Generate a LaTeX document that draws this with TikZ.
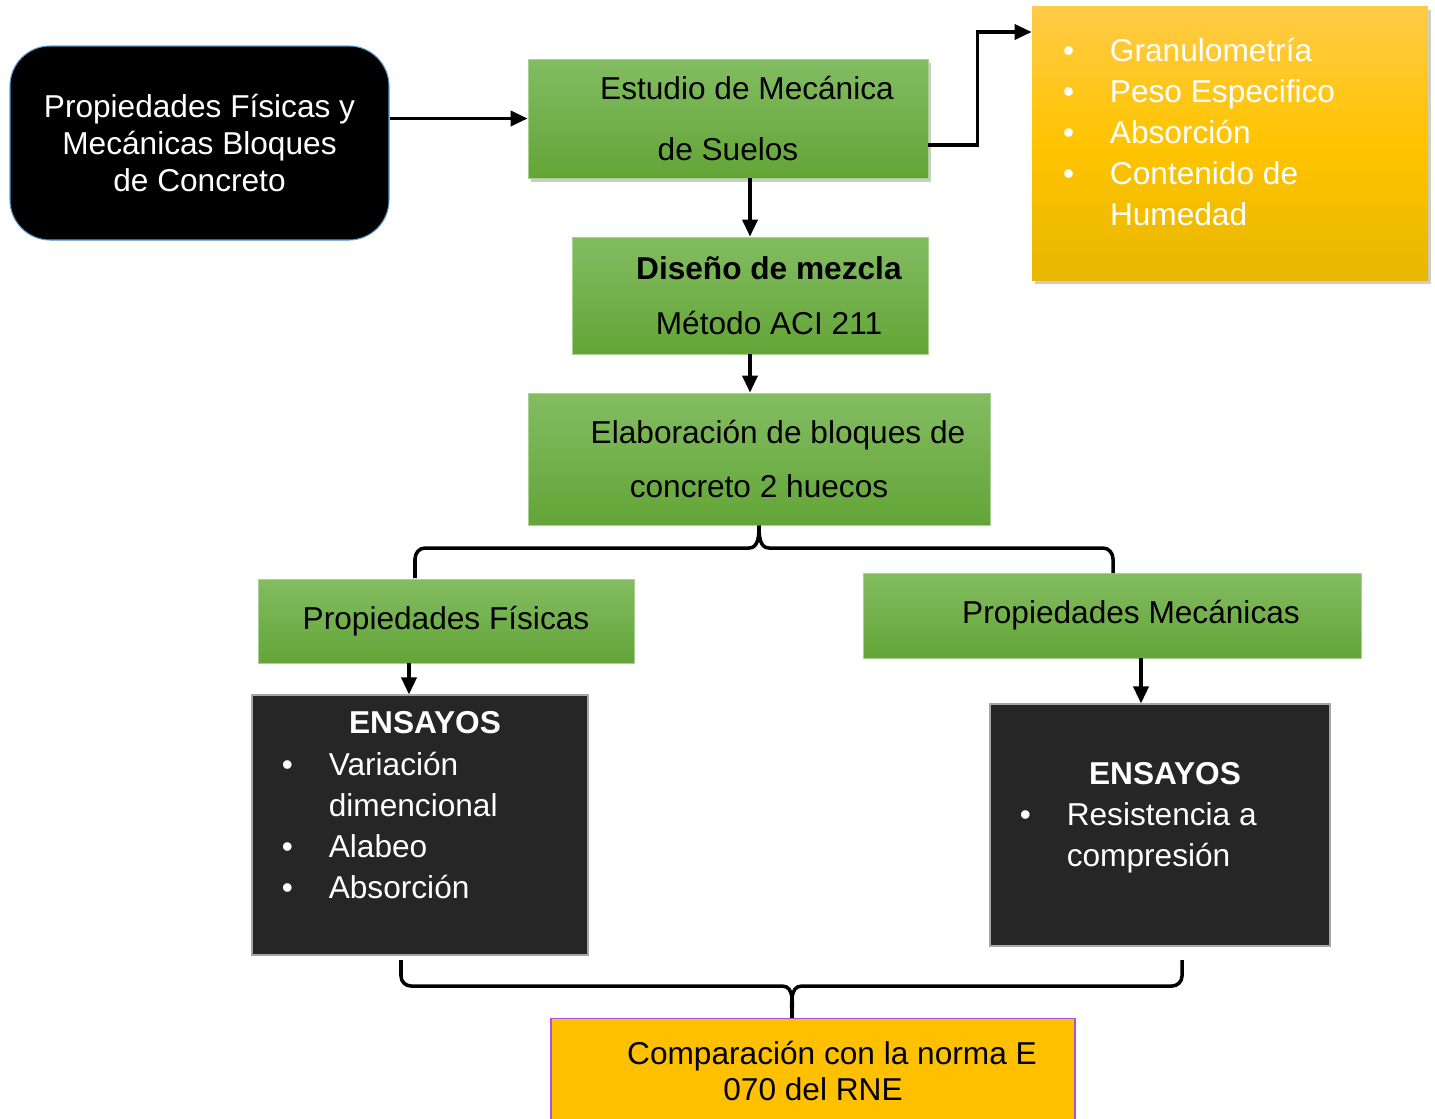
\documentclass[tikz,border=0pt]{standalone}
\usepackage{fontspec}
\setmainfont{Liberation Sans}
\usetikzlibrary{arrows.meta,shadows,positioning}

\definecolor{verdeA}{RGB}{131,188,98}
\definecolor{verdeB}{RGB}{99,165,55}
\definecolor{naranjaA}{RGB}{255,203,72}
\definecolor{naranjaB}{RGB}{255,196,0}
\definecolor{naranjaC}{RGB}{232,183,0}
\definecolor{grisosc}{RGB}{38,38,38}
\definecolor{azulborde}{RGB}{91,155,213}
\definecolor{morado}{RGB}{176,80,224}
\definecolor{ambar}{RGB}{255,192,0}

\newcommand{\sangria}{\hspace*{0.76cm}}
\newcommand{\vin}{\makebox[0.94cm][l]{\textbullet}}
\newcommand{\cont}{\hspace*{0.94cm}}

\tikzset{
  caja/.style={rectangle, inner sep=0pt, align=center, font=\fontsize{18}{21}\selectfont},
  verde/.style={caja, draw=verdeA!70!white, line width=0.4pt, top color=verdeA, bottom color=verdeB},
  sombra/.style={drop shadow={shadow xshift=0.06cm, shadow yshift=-0.08cm, opacity=0.4}},
  oscura/.style={caja, draw=gray!70, line width=0.6pt, fill=grisosc, text=white},
  titulo/.style={inner sep=0pt, text=white, font=\bfseries\fontsize{18}{21}\selectfont},
  lista/.style={inner sep=0pt, align=left, text=white, font=\fontsize{18}{23.4}\selectfont},
  flecha/.style={line width=2pt, -{Triangle[length=0.34cm,width=0.3cm]}},
  llave/.style={line width=2pt}
}

\begin{document}
\begin{tikzpicture}
\useasboundingbox (0,0) rectangle (28.7,-22.36);

% Cajas de la fila superior
\node[caja, fill=black, draw=azulborde, line width=0.6pt, rounded corners=0.8cm, text=white,
  minimum width=7.58cm, minimum height=3.88cm] (prop) at (3.99,-2.86)
  {Propiedades Físicas y\\Mecánicas Bloques\\de Concreto};
\node[verde, sombra, minimum width=8cm, minimum height=2.38cm, font=\fontsize{18}{35}\selectfont]
  (est) at (14.56,-2.37) {\sangria Estudio de Mecánica\\de Suelos};
\node[caja, sombra, top color=naranjaA, bottom color=naranjaC, middle color=naranjaB,
  minimum width=7.92cm, minimum height=5.48cm] (gran) at (24.60,-2.86) {};
\node[lista, anchor=north west] (grantxt) at ([xshift=0.62cm,yshift=-0.64cm]gran.north west)
  {\vin Granulometría\\\vin Peso Especifico\\\vin Absorción\\\vin Contenido de\\\cont Humedad};

% Cajas centrales
\node[verde, minimum width=7.12cm, minimum height=2.34cm, font=\fontsize{18}{31}\selectfont]
  (dis) at (15.00,-5.91) {\sangria\textbf{Diseño de mezcla}\\\sangria Método ACI 211};
\node[verde, minimum width=9.24cm, minimum height=2.64cm, font=\fontsize{18}{31}\selectfont]
  (ela) at (15.18,-9.18) {\sangria Elaboración de bloques de\\concreto 2 huecos};
\node[verde, minimum width=7.52cm, minimum height=1.68cm] (fis) at (8.92,-12.42) {Propiedades Físicas};
\node[verde, minimum width=9.96cm, minimum height=1.70cm] (mec) at (22.24,-12.31) {\sangria Propiedades Mecánicas};

% Ensayos
\node[oscura, minimum width=6.72cm, minimum height=5.20cm] (ensL) at (8.40,-16.50) {};
\node[titulo] (titL) at (8.50,-14.46) {ENSAYOS};
\node[lista, anchor=north west] (lisL) at ([xshift=0.6cm,yshift=-1.14cm]ensL.north west)
  {\vin Variación\\\cont dimencional\\\vin Alabeo\\\vin Absorción};
\node[oscura, minimum width=6.80cm, minimum height=4.84cm] (ensR) at (23.20,-16.50) {};
\node[titulo] (titR) at (23.30,-15.48) {ENSAYOS};
\node[lista, anchor=north west] (lisR) at ([xshift=0.6cm,yshift=-1.98cm]ensR.north west)
  {\vin Resistencia a\\\cont compresión};

% Comparacion final
\node[caja, fill=ambar, draw=morado, line width=0.6pt, minimum width=10.48cm, minimum height=2.1cm,
  anchor=north, font=\fontsize{18}{20}\selectfont] (comp) at (16.26,-20.36)
  {\sangria Comparación con la norma E\\070 del RNE};

% Flechas
\coordinate (fL) at ([xshift=-0.22cm]ensL.north);
\coordinate (fR) at ([xshift=-0.38cm]ensR.north);
\draw[flecha] (prop.east |- est.west) -- (est.west);
\draw[flecha] ([yshift=-0.53cm]est.east) -- ++(0.98,0) |- ([yshift=2.22cm]gran.west);
\draw[flecha] (dis.north |- est.south) -- (dis.north);
\draw[flecha] (dis.south) -- (dis.south |- ela.north);
\draw[flecha] (fL |- fis.south) -- (fL);
\draw[flecha] (fR |- mec.south) -- (fR);

% Llaves
\coordinate (llA) at (8.30,-11.56);
\coordinate (llB) at (22.26,-11.46);
\draw[llave] (llA) -- (8.30,-11.18) to[out=90,in=180] (8.50,-10.96) -- (14.98,-10.96)
  to[out=0,in=-90] (ela.south) to[out=-90,in=180] (15.38,-10.96) -- (22.06,-10.96)
  to[out=0,in=90] (22.26,-11.18) -- (llB);
\coordinate (llC) at (8.02,-19.20);
\coordinate (llD) at (23.64,-19.20);
\coordinate (llP) at (15.84,-20.36);
\draw[llave] (llC) -- (8.02,-19.52) to[out=-90,in=180] (8.22,-19.72) -- (15.64,-19.72)
  to[out=0,in=90] (llP) to[out=90,in=180] (16.04,-19.72) -- (23.44,-19.72)
  to[out=0,in=-90] (23.64,-19.52) -- (llD);

\end{tikzpicture}
\end{document}
